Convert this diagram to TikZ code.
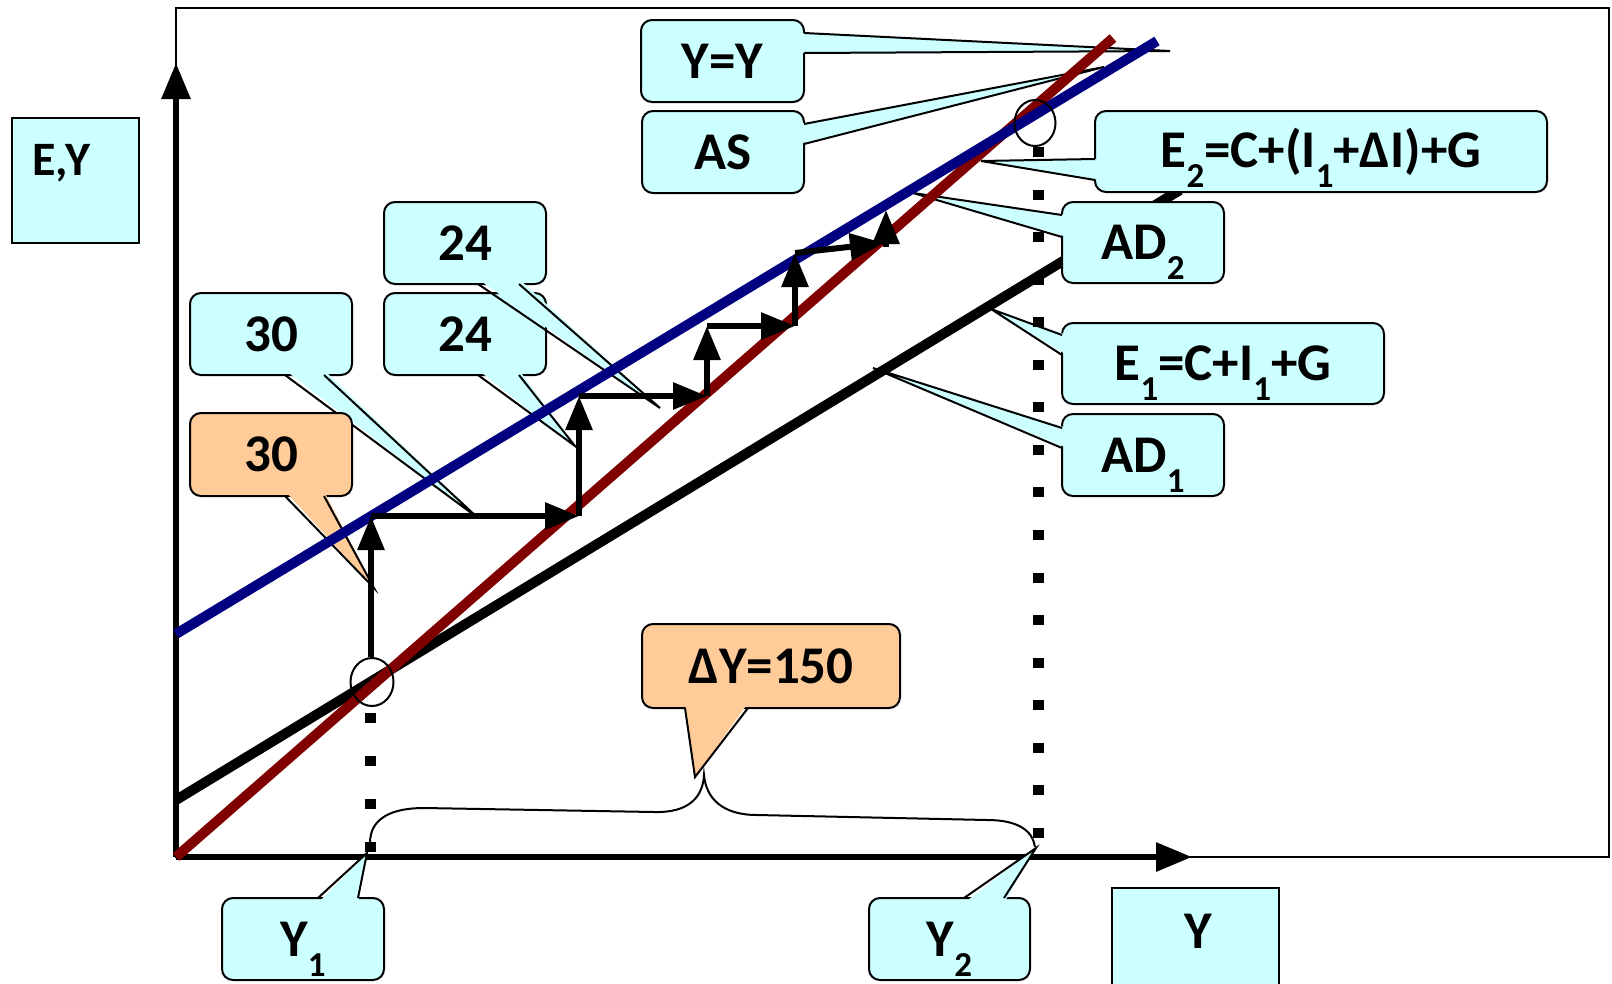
\documentclass[tikz,border=0pt]{standalone}
\usepackage{fontspec}
\setmainfont{Carlito}
\usetikzlibrary{arrows.meta,shapes.geometric}
\definecolor{cy}{HTML}{CCFFFF}
\definecolor{og}{HTML}{FFCC99}
\definecolor{mar}{HTML}{800000}
\definecolor{nav}{HTML}{000080}
\newcommand\sbx[1]{\raisebox{-20pt}[0pt][0pt]{\fontsize{35}{35}\selectfont #1}}
\tikzset{
  frame/.style={draw=black, line width=2pt},
  axis/.style={line width=6pt, -{Triangle[length=36pt,width=28pt]}},
  curve/.style={line width=10pt},
  stair/.style={line width=6pt, -{Triangle[length=34pt,width=26pt]}},
  cbox/.style={draw=black, line width=2pt, rounded corners=11pt, inner sep=0pt},
  sqbox/.style={draw=black, line width=2pt, fill=cy, inner sep=0pt},
  wl/.style={draw=black, line width=2pt},
  ell/.style={draw=black, line width=2pt, ellipse, inner sep=0pt},
  dots/.style={line width=11pt},
  brace/.style={line width=2pt}
}
\begin{document}
\begin{tikzpicture}[x=1pt,y=-1pt, font=\bfseries\fontsize{53}{60}\selectfont]
\useasboundingbox (0,0) rectangle (1612,983);
% frame and axes
\coordinate (frTL) at (176,8);
\coordinate (frBR) at (1609,857);
\coordinate (O) at (176,857);
\coordinate (ytip) at (176,63);
\coordinate (xtip) at (1192,857);
\draw[frame] (frTL) rectangle (frBR);
\draw[axis] (O) -- (ytip);
\draw[axis] (O) -- (xtip);
% AD1 black line
\coordinate (ad1a) at (176,800);
\coordinate (ad1b) at (1180,190);
\draw[curve, black] (ad1a) -- (ad1b);

% ---- callouts ----
% Y=Y
\node[cbox, fill=cy, minimum width=163pt, minimum height=82pt] (yy) at (722.5,61) {Y=Y};
\coordinate (yyb1) at (804,33); \coordinate (yyb2) at (804,53); \coordinate (yyt) at (1170,51);
\fill[cy] (799,33) -- (yyt) -- (799,53) -- cycle;
\draw[wl] (yyb1) -- (yyt) -- (yyb2);
% AS
\node[cbox, fill=cy, minimum width=162pt, minimum height=82pt] (as) at (723,152) {AS};
\coordinate (asb1) at (804,124); \coordinate (asb2) at (804,144); \coordinate (ast) at (1104,67);
\fill[cy] (799,124) -- (ast) -- (799,144) -- cycle;
\draw[wl] (asb1) -- (ast) -- (asb2);
% E2
\node[cbox, fill=cy, minimum width=452pt, minimum height=81pt] (e2) at (1321,151.5) {E\sbx{2}=C+(I\sbx{1}+ΔI)+G};
\coordinate (e2b1) at (1095,159); \coordinate (e2b2) at (1095,180); \coordinate (e2t) at (981,161);
\fill[cy] (1100,159) -- (e2t) -- (1100,180) -- cycle;
\draw[wl] (e2b1) -- (e2t) -- (e2b2);
% AD2
\node[cbox, fill=cy, minimum width=162pt, minimum height=81pt] (ad2) at (1143,242.5) {AD\sbx{2}};
\coordinate (ad2b1) at (1062,215); \coordinate (ad2b2) at (1062,237); \coordinate (ad2t) at (913,193);
\fill[cy] (1067,215) -- (ad2t) -- (1067,237) -- cycle;
\draw[wl] (ad2b1) -- (ad2t) -- (ad2b2);
% E1
\node[cbox, fill=cy, minimum width=322pt, minimum height=81pt] (e1) at (1223,363.5) {E\sbx{1}=C+I\sbx{1}+G};
\coordinate (e1b1) at (1062,335); \coordinate (e1b2) at (1062,355); \coordinate (e1t) at (991,309);
\fill[cy] (1067,335) -- (e1t) -- (1067,355) -- cycle;
\draw[wl] (e1b1) -- (e1t) -- (e1b2);
% AD1
\node[cbox, fill=cy, minimum width=162pt, minimum height=82pt] (ad1) at (1143,455) {AD\sbx{1}};
\coordinate (ad1b1) at (1062,428); \coordinate (ad1b2) at (1062,448); \coordinate (ad1t) at (873,368);
\fill[cy] (1067,428) -- (ad1t) -- (1067,448) -- cycle;
\draw[wl] (ad1b1) -- (ad1t) -- (ad1b2);
% 24 lower
\node[cbox, fill=cy, minimum width=162pt, minimum height=82pt] (tfl) at (465,334) {24};
\coordinate (tflb1) at (478,375); \coordinate (tflb2) at (519,375); \coordinate (tflt) at (575,446);
\fill[cy] (478,370) -- (tflt) -- (519,370) -- cycle;
\draw[wl] (tflb1) -- (tflt) -- (tflb2);
% 24 upper
\node[cbox, fill=cy, minimum width=162pt, minimum height=82pt] (tfu) at (465,243) {24};
\coordinate (tfub1) at (478,284); \coordinate (tfub2) at (519,284); \coordinate (tfut) at (660,408);
\fill[cy] (478,279) -- (tfut) -- (519,279) -- cycle;
\draw[wl] (tfub1) -- (tfut) -- (tfub2);
% 30 cyan
\node[cbox, fill=cy, minimum width=162pt, minimum height=82pt] (thc) at (271,334) {30};
\coordinate (thcb1) at (285,375); \coordinate (thcb2) at (324,375); \coordinate (thct) at (478,518);
\fill[cy] (285,370) -- (thct) -- (324,370) -- cycle;
\draw[wl] (thcb1) -- (thct) -- (thcb2);
% 30 orange
\node[cbox, fill=og, minimum width=162pt, minimum height=83pt] (tho) at (271,454.5) {30};
\coordinate (thob1) at (285,496); \coordinate (thob2) at (324,496); \coordinate (thot) at (374,588);
\fill[og] (285,491) -- (thot) -- (324,491) -- cycle;
\draw[wl] (thob1) -- (thot) -- (thob2);
% Delta Y
\node[cbox, fill=og, minimum width=258pt, minimum height=84pt] (dy) at (771,666) {ΔY=150};
\coordinate (dyb1) at (685,708); \coordinate (dyb2) at (748,708); \coordinate (dyt) at (695,777);
\fill[og] (685,703) -- (dyt) -- (748,703) -- cycle;
\draw[wl] (dyb1) -- (dyt) -- (dyb2);
% Y1
\node[cbox, fill=cy, minimum width=162pt, minimum height=82pt] (y1) at (303,939) {Y\sbx{1}};
\coordinate (y1b1) at (318,898); \coordinate (y1b2) at (358,898); \coordinate (y1t) at (367,853);
\fill[cy] (318,903) -- (y1t) -- (358,903) -- cycle;
\draw[wl] (y1b1) -- (y1t) -- (y1b2);
% Y2
\node[cbox, fill=cy, minimum width=161pt, minimum height=82pt] (y2) at (949.5,939) {Y\sbx{2}};
\coordinate (y2b1) at (964,898); \coordinate (y2b2) at (1004,898); \coordinate (y2t) at (1036,848);
\fill[cy] (964,903) -- (y2t) -- (1004,903) -- cycle;
\draw[wl] (y2b1) -- (y2t) -- (y2b2);

% axis label boxes
\node[sqbox, minimum width=127pt, minimum height=125pt] (eybox) at (75.5,180.5) {};
\node[anchor=base west, font=\bfseries\fontsize{48}{56}\selectfont, inner sep=0pt] (eytxt) at (32,175) {E,Y};
\node[sqbox, minimum width=167pt, minimum height=102pt] (ybox) at (1195.5,939) {};
\node[anchor=base, inner sep=0pt] (ytxt) at (1198,948) {Y};

% AS (red) and AD2 (blue)
\coordinate (asa) at (176,857);
\coordinate (asz) at (1113,38);
\draw[curve, mar] (asa) -- (asz);
\coordinate (ad2a) at (176,634);
\coordinate (ad2z) at (1157,41);
\draw[curve, nav] (ad2a) -- (ad2z);

% stairs
\coordinate (s0) at (371,657);
\coordinate (s1) at (371,516);
\coordinate (s2) at (579,516);
\coordinate (s3) at (579,396);
\coordinate (s4) at (707,396);
\coordinate (s5) at (707,326);
\coordinate (s6) at (795,326);
\coordinate (s7) at (795,253);
\coordinate (s8) at (884,243);
\coordinate (s8b) at (886,247);
\coordinate (s9) at (886,210);
\draw[stair] (s0) -- (s1);
\draw[stair] (s1) -- (s2);
\draw[stair] (s2) -- (s3);
\draw[stair] (s3) -- (s4);
\draw[stair] (s4) -- (s5);
\draw[stair] (s5) -- (s6);
\draw[stair] (s6) -- (s7);
\draw[stair] (s7) -- (s8);
\draw[stair] (s8b) -- (s9);

% ellipses
\node[ell, minimum width=43pt, minimum height=48pt] (eq1) at (372,682) {};
\node[ell, minimum width=41pt, minimum height=46pt] (eq2) at (1035,123) {};

% dotted verticals
\coordinate (d1a) at (370,713);
\coordinate (d1b) at (370,852);
\draw[dots, dash pattern=on 10pt off 33pt] (d1a) -- (d1b);
\coordinate (d2a) at (1038,147);
\coordinate (d2b) at (1038,838);
\draw[dots, dash pattern=on 10pt off 32.56pt] (d2a) -- (d2b);

% brace
\coordinate (br0) at (370,843);
\coordinate (br1) at (424,808);
\coordinate (br2) at (654,812);
\coordinate (brt) at (704,775);
\coordinate (br3) at (757,815);
\coordinate (br4) at (987,820);
\coordinate (br5) at (1035,847);
\draw[brace] (br0) .. controls (370,818) and (392,808) .. (br1) -- (br2)
  .. controls (690,813) and (703,796) .. (brt)
  .. controls (706,798) and (722,815) .. (br3) -- (br4)
  .. controls (1020,820) and (1033,832) .. (br5);
\end{tikzpicture}
\end{document}
